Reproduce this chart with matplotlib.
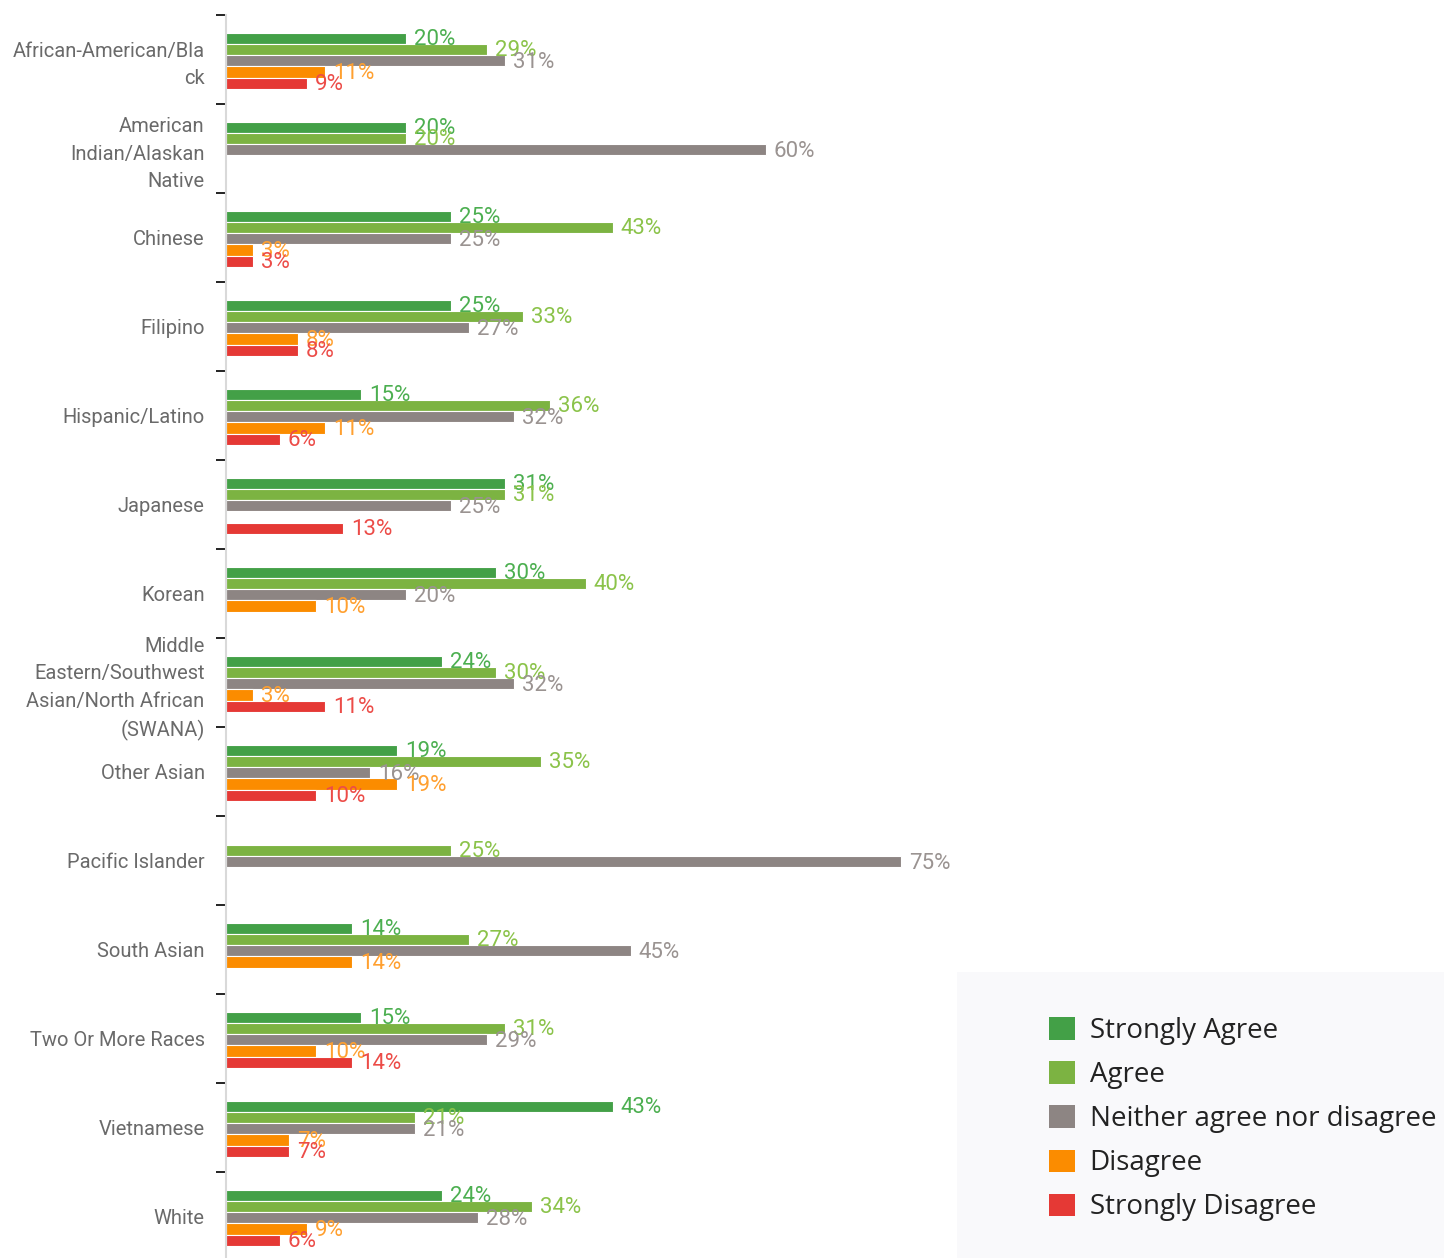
import numpy as np
import matplotlib
matplotlib.use("Agg")
import matplotlib.pyplot as plt
from matplotlib.patches import Rectangle

# --- data -------------------------------------------------------------
categories = [
    "African-American/Bla\nck",
    "American\nIndian/Alaskan\nNative",
    "Chinese",
    "Filipino",
    "Hispanic/Latino",
    "Japanese",
    "Korean",
    "Middle\nEastern/Southwest\nAsian/North African\n(SWANA)",
    "Other Asian",
    "Pacific Islander",
    "South Asian",
    "Two Or More Races",
    "Vietnamese",
    "White",
]

series_names = ["Strongly Agree", "Agree", "Neither agree nor disagree",
                "Disagree", "Strongly Disagree"]

nan = np.nan
strongly_agree = [20, 20, 25, 25, 15, 31, 30, 24, 19, nan, 14, 15, 43, 24]
agree = [29, 20, 43, 33, 36, 31, 40, 30, 35, 25, 27, 31, 21, 34]
neither = [31, 60, 25, 27, 32, 25, 20, 32, 16, 75, 45, 29, 21, 28]
disagree = [11, nan, 3, 8, 11, nan, 10, 3, 19, nan, 14, 10, 7, 9]
strongly_disagree = [9, nan, 3, 8, 6, 13, nan, 11, 10, nan, nan, 14, 7, 6]

series_values = [strongly_agree, agree, neither, disagree, strongly_disagree]
series_colors = ["#43a047", "#7cb342", "#8d8583", "#fb8c00", "#e53935"]
label_colors = ["#4caf50", "#8bc34a", "#9a9391", "#ffa030", "#ec4c48"]

# --- figure -----------------------------------------------------------
W, H = 1444, 1258
fig = plt.figure(figsize=(W / 100, H / 100), dpi=100)
fig.patch.set_facecolor("white")

n = len(categories)
band_top_px, band_px = 14.5, 89.0
ax_left_px = 225.5
ax_bottom_px = band_top_px + n * band_px
ax = fig.add_axes([ax_left_px / W, 1 - ax_bottom_px / H,
                   (W - ax_left_px) / W, (ax_bottom_px - band_top_px) / H])

px_per_pct = 9.0
ax.set_xlim(0, (W - ax_left_px) / px_per_pct)
ax.set_ylim(n - 0.5, -0.5)

bar_h = 0.126
group_shift = 0.02
y = np.arange(n)
label_font = "Roboto"

for k, (name, vals, col, lcol) in enumerate(
        zip(series_names, series_values, series_colors, label_colors)):
    vals = np.asarray(vals, dtype=float)
    pos = y + group_shift + (k - 2) * bar_h
    mask = ~np.isnan(vals)
    ax.barh(pos[mask], vals[mask], height=bar_h, color=col,
            edgecolor="white", linewidth=0.8, label=name)
    for yy, v in zip(pos[mask], vals[mask]):
        ax.annotate(f"{v:.0f}%", xy=(v, yy), xytext=(6, -1),
                    textcoords="offset points", va="center", ha="left",
                    fontsize=16, color=lcol, family=label_font,
                    fontweight="normal")

# y axis: category labels at centres, small dashes between categories
ax.set_yticks(y)
ax.set_yticklabels(categories, family=label_font, fontsize=14.5,
                   color="#6a6a6a", linespacing=1.55, fontweight="normal")
ax.tick_params(axis="y", which="major", length=0, pad=15)
ax.set_yticks(np.arange(n + 1) - 0.5, minor=True)
ax.tick_params(axis="y", which="minor", length=7, width=1.4, color="#222222")
for lbl in ax.get_yticklabels():
    lbl.set_multialignment("right")

ax.tick_params(axis="x", which="both", bottom=False, labelbottom=False)
for s in ("top", "right", "bottom"):
    ax.spines[s].set_visible(False)
ax.spines["left"].set_color("#d9d9d9")
ax.spines["left"].set_linewidth(1.5)
ax.set_facecolor("none")

# legend panel
fig.patches.append(Rectangle((957 / W, 0), (W - 957) / W, (H - 972) / H,
                             transform=fig.transFigure, facecolor="#f9f9fb",
                             edgecolor="none", zorder=0))
handles, labels = ax.get_legend_handles_labels()
leg = fig.legend(handles, labels, loc="upper left",
                 bbox_to_anchor=(1049 / W, 1 - 1017 / H),
                 frameon=False, borderpad=0, borderaxespad=0,
                 handlelength=0.94, handleheight=0.86, handletextpad=0.52,
                 labelspacing=0.58,
                 prop={"family": "Open Sans", "size": 20})
for t in leg.get_texts():
    t.set_color("#222222")
for h in leg.legend_handles:
    h.set_edgecolor("none")

fig.savefig("out.png", dpi=100)
